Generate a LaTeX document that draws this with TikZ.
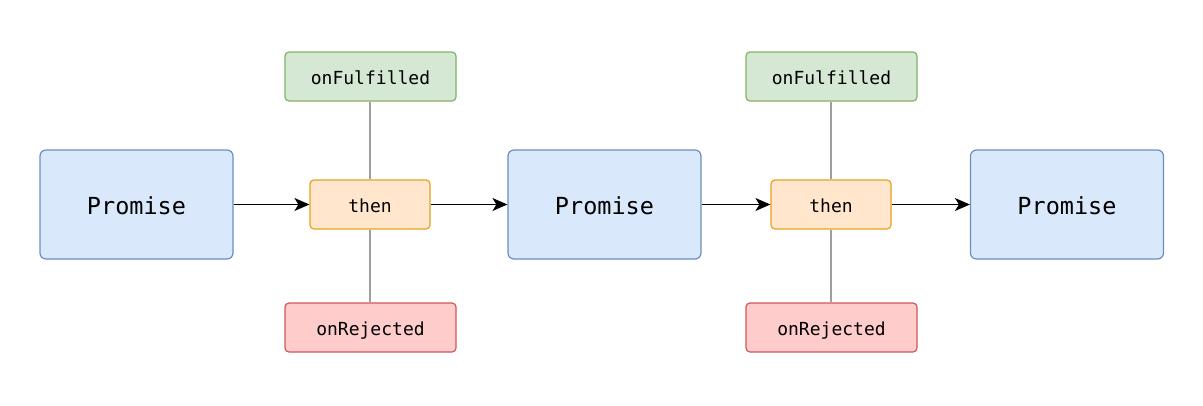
\documentclass[tikz,border=0pt]{standalone}
\usepackage{fontspec}
\setmonofont{DejaVu Sans Mono}
\usetikzlibrary{arrows.meta}
\definecolor{pfill}{HTML}{DAE8FC}\definecolor{pdraw}{HTML}{6C8EBF}
\definecolor{gfill}{HTML}{D5E8D4}\definecolor{gdraw}{HTML}{82B366}
\definecolor{ofill}{HTML}{FFE6CC}\definecolor{odraw}{HTML}{E6A31E}
\definecolor{rfill}{HTML}{FFCCCC}\definecolor{rdraw}{HTML}{D0575A}
\definecolor{lgray}{HTML}{9E9E9E}
\begin{document}
\begin{tikzpicture}[x=1pt,y=-1pt,
  base/.style={line width=1.2pt,inner sep=0pt,text depth=0pt},
  promisebox/.style={base,draw=pdraw,fill=pfill,rounded corners=6pt,minimum width=193pt,minimum height=109pt,font=\ttfamily\fontsize{23.5}{28}\selectfont},
  thenbox/.style={base,draw=odraw,fill=ofill,rounded corners=4pt,minimum width=120pt,minimum height=49pt,font=\ttfamily\fontsize{18}{21}\selectfont},
  fulbox/.style={base,draw=gdraw,fill=gfill,rounded corners=4pt,minimum width=171pt,minimum height=49pt,font=\ttfamily\fontsize{18}{21}\selectfont},
  rejbox/.style={base,draw=rdraw,fill=rfill,rounded corners=4pt,minimum width=171pt,minimum height=49pt,font=\ttfamily\fontsize{18}{21}\selectfont},
  flow/.style={draw=black,line width=1.4pt,-{Stealth[length=15pt,width=13pt,inset=4pt]}},
  link/.style={draw=lgray,line width=1.2pt}]
\useasboundingbox (0,0) rectangle (1203,405);
\fill[white] (0,0) rectangle (1203,405);
\node[promisebox] (p1) at (136.5,204.5) {\raisebox{-2pt}{Promise}};
\node[promisebox] (p2) at (604.5,204.5) {\raisebox{-2pt}{Promise}};
\node[promisebox] (p3) at (1067,204.5) {\raisebox{-2pt}{Promise}};
\node[thenbox] (t1) at (370,204.5) {\raisebox{-2pt}{then}};
\node[thenbox] (t2) at (831,204.5) {\raisebox{-2pt}{then}};
\node[fulbox] (f1) at (370.5,76.5) {\raisebox{-2pt}{onFulfilled}};
\node[fulbox] (f2) at (831.5,76.5) {\raisebox{-2pt}{onFulfilled}};
\node[rejbox] (r1) at (370.5,327.5) {\raisebox{-2pt}{onRejected}};
\node[rejbox] (r2) at (831.5,327.5) {\raisebox{-2pt}{onRejected}};
\draw[link] (f1.south -| t1) -- (t1.north);
\draw[link] (t1.south) -- (r1.north -| t1);
\draw[link] (f2.south -| t2) -- (t2.north);
\draw[link] (t2.south) -- (r2.north -| t2);
\draw[flow] (p1) -- (t1);
\draw[flow] (t1) -- (p2);
\draw[flow] (p2) -- (t2);
\draw[flow] (t2) -- (p3);
\end{tikzpicture}
\end{document}
